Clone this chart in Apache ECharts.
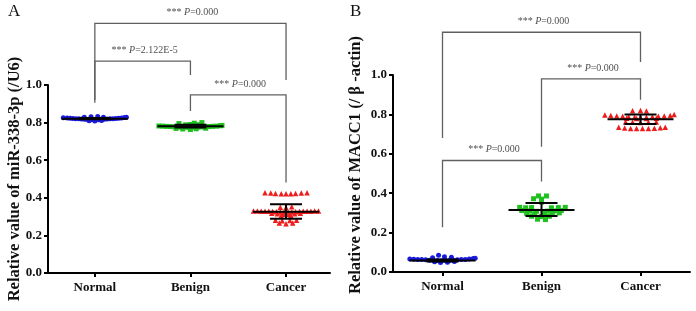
<!DOCTYPE html>
<html><head><meta charset="utf-8">
<script src="https://cdn.jsdelivr.net/npm/echarts@6/dist/echarts.min.js"></script>
<style>html,body{margin:0;padding:0;background:#fff}#c{width:696px;height:311px}</style>
</head><body><div id="c"></div>
<script>
const categories = ['Normal', 'Benign', 'Cancer'];
const yTickValues = [0, 0.2, 0.4, 0.6, 0.8, 1.0];
const titleA = 'Relative value of miR-338-3p (/U6)';
const titleB = 'Relative value of MACC1 (/ β -actin)';

// Panel A points: [horizontal jitter within the category, value]
const aNormal = [[-0.33,0.826],[-0.29,0.824],[-0.26,0.823],[-0.23,0.822],[-0.2,0.821],[-0.17,0.82],[-0.14,0.819],[-0.11,0.818],[-0.08,0.817],[-0.05,0.816],[-0.02,0.815],[0.01,0.814],[0.04,0.815],[0.07,0.816],[0.1,0.818],[0.13,0.819],[0.16,0.82],[0.19,0.821],[0.22,0.822],[0.25,0.823],[0.28,0.825],[0.31,0.827],[0.33,0.829],[-0.04,0.831],[0.03,0.833],[0.09,0.829],[-0.11,0.828],[0.0,0.808],[-0.06,0.81],[0.07,0.811]];
const aBenign = [[-0.33,0.782],[-0.29,0.781],[-0.25,0.78],[-0.21,0.779],[-0.17,0.778],[-0.13,0.777],[-0.09,0.776],[-0.05,0.775],[-0.01,0.774],[0.03,0.775],[0.07,0.776],[0.11,0.777],[0.15,0.778],[0.19,0.779],[0.23,0.78],[0.27,0.781],[0.31,0.783],[0.33,0.785],[-0.12,0.795],[0.04,0.797],[0.12,0.8],[0.0,0.79],[-0.05,0.788],[0.08,0.789],[-0.08,0.766],[0.0,0.763],[0.06,0.767],[-0.15,0.769],[0.16,0.77]];
const aCancer = [[-0.22,0.427],[-0.16,0.425],[-0.11,0.423],[-0.05,0.422],[0.0,0.422],[0.05,0.422],[0.1,0.423],[0.16,0.425],[0.22,0.427],[-0.06,0.35],[0.0,0.348],[0.06,0.352],[-0.34,0.33],[-0.3,0.33],[-0.26,0.329],[-0.22,0.329],[-0.18,0.328],[-0.14,0.327],[-0.1,0.326],[-0.06,0.325],[-0.02,0.324],[0.02,0.324],[0.06,0.325],[0.1,0.326],[0.14,0.327],[0.18,0.328],[0.22,0.329],[0.26,0.329],[0.3,0.33],[0.34,0.33],[-0.15,0.318],[-0.09,0.315],[-0.03,0.312],[0.03,0.312],[0.09,0.315],[0.15,0.318],[-0.05,0.305],[0.05,0.306],[-0.11,0.28],[-0.04,0.278],[0.04,0.279],[0.11,0.281],[-0.07,0.266],[0.0,0.262],[0.07,0.266]];
// Panel A summary: [category index, mean, mean - SD, mean + SD]
const aStats = [[0,0.821,0.818,0.824],[1,0.781,0.774,0.788],[2,0.326,0.288,0.366]];
// Panel A brackets: [from, to, left foot, right foot, top, p text]
const aBrackets = [[0,2,0.92,1.026,1.328,'0.000'],[0,1,0.905,1.053,1.127,'2.122E-5'],[1,2,0.862,0.481,0.947,'0.000']];

// Panel B points
const bNormal = [[-0.33,0.066],[-0.29,0.065],[-0.25,0.064],[-0.21,0.063],[-0.17,0.062],[-0.13,0.06],[-0.09,0.059],[-0.05,0.058],[-0.01,0.057],[0.03,0.058],[0.07,0.059],[0.11,0.06],[0.15,0.062],[0.19,0.063],[0.23,0.064],[0.27,0.066],[0.31,0.068],[0.33,0.07],[-0.04,0.085],[0.02,0.078],[0.09,0.075],[-0.1,0.072],[-0.02,0.048],[0.05,0.05],[-0.08,0.052],[0.12,0.053]];
const bBenign = [[-0.03,0.386],[0.05,0.386],[-0.08,0.372],[0.0,0.37],[0.0,0.355],[-0.22,0.328],[-0.16,0.326],[-0.1,0.327],[0.1,0.326],[0.17,0.327],[0.24,0.328],[-0.2,0.312],[-0.12,0.31],[-0.05,0.308],[0.06,0.309],[0.13,0.31],[0.2,0.312],[-0.15,0.298],[-0.07,0.296],[0.03,0.297],[0.11,0.298],[0.18,0.3],[-0.1,0.283],[0.0,0.281],[0.08,0.283],[-0.04,0.268],[0.04,0.266]];
const bCancer = [[-0.08,0.818],[0.0,0.82],[0.06,0.817],[-0.36,0.797],[-0.3,0.794],[-0.24,0.792],[-0.18,0.79],[-0.12,0.788],[-0.06,0.786],[0.0,0.785],[0.06,0.786],[0.12,0.788],[0.18,0.79],[0.24,0.792],[0.3,0.795],[0.34,0.799],[-0.14,0.781],[-0.04,0.779],[0.06,0.779],[0.16,0.781],[-0.15,0.762],[-0.08,0.76],[0.0,0.759],[0.08,0.76],[0.16,0.762],[-0.22,0.735],[-0.16,0.731],[-0.1,0.729],[-0.04,0.728],[0.02,0.728],[0.08,0.729],[0.14,0.73],[0.2,0.732],[0.25,0.735]];
const bStats = [[0,0.058,0.053,0.064],[1,0.315,0.284,0.35],[2,0.776,0.751,0.8]];
const bBrackets = [[0,2,0.68,1.066,1.217,'0.000'],[1,2,0.636,0.874,0.98,'0.000'],[0,1,0.227,0.46,0.566,'0.000']];

const SERIF = '"Liberation Serif", "Times New Roman", serif';
const colors = ['#1a1adf', '#1fc01f', '#ee1c1c'];
const symbols = ['circle', 'rect', 'triangle'];
const sizes = [5, 5, 5.5];

function errorBarRender(params, api) {
  const x = api.value(0);
  const pm = api.coord([x, api.value(1)]);
  const pl = api.coord([x, api.value(2)]);
  const ph = api.coord([x, api.value(3)]);
  const st = { stroke: '#000', lineWidth: 2 };
  return { type: 'group', children: [
    { type: 'line', shape: { x1: pm[0] - 33, y1: pm[1], x2: pm[0] + 33, y2: pm[1] }, style: st },
    { type: 'line', shape: { x1: pl[0], y1: pl[1], x2: ph[0], y2: ph[1] }, style: st },
    { type: 'line', shape: { x1: pl[0] - 16, y1: pl[1], x2: pl[0] + 16, y2: pl[1] }, style: st },
    { type: 'line', shape: { x1: ph[0] - 16, y1: ph[1], x2: ph[0] + 16, y2: ph[1] }, style: st }
  ]};
}
function bracketRender(list) {
  return function (params, api) {
    const b = list[params.dataIndex];
    const l0 = api.coord([b[0], b[2]]);
    const r0 = api.coord([b[1], b[3]]);
    const lt = api.coord([b[0], b[4]]);
    const rt = api.coord([b[1], b[4]]);
    return { type: 'group', children: [
      { type: 'polyline', shape: { points: [l0, lt, rt, r0] }, style: { stroke: '#606060', lineWidth: 1.3, fill: null } },
      { type: 'text', x: (lt[0] + rt[0]) / 2 + 2, y: lt[1] - 11,
        style: { text: '{s|*** }{p|P}{s|=' + b[5] + '}', align: 'center', verticalAlign: 'middle',
          rich: { s: { fontFamily: SERIF, fontSize: 10, fill: '#505050' },
                  p: { fontFamily: SERIF, fontSize: 10, fontStyle: 'italic', fill: '#505050' } } } }
    ]};
  };
}

function xAxis(gi, min, max) {
  return { gridIndex: gi, type: 'value', min: min, max: max,
    axisLine: { show: true, onZero: false, lineStyle: { color: '#000', width: 2 } },
    axisTick: { show: true, customValues: [0, 1, 2], length: 4, lineStyle: { color: '#000', width: 2 } },
    axisLabel: { customValues: [0, 1, 2], formatter: v => categories[Math.round(v)], margin: 8,
      fontFamily: SERIF, fontWeight: 'bold', fontSize: 13, color: '#111' },
    splitLine: { show: false } };
}
function yAxis(gi) {
  return { gridIndex: gi, type: 'value', min: 0, max: 1, interval: 0.2,
    axisLine: { show: true, onZero: false, lineStyle: { color: '#000', width: 2 } },
    axisTick: { show: true, length: 4, lineStyle: { color: '#000', width: 2 } },
    axisLabel: { formatter: v => v.toFixed(1), margin: 6, fontFamily: SERIF, fontWeight: 'bold', fontSize: 13, color: '#111' },
    splitLine: { show: false } };
}

const groupsA = [aNormal, aBenign, aCancer];
const groupsB = [bNormal, bBenign, bCancer];
const series = [];
[groupsA, groupsB].forEach((groups, gi) => {
  groups.forEach((pts, k) => {
    series.push({ type: 'scatter', xAxisIndex: gi, yAxisIndex: gi, data: pts.map(p => [k + p[0], p[1]]),
      symbol: symbols[k], symbolSize: sizes[k], itemStyle: { color: colors[k], opacity: 1 }, silent: true, z: 2 });
  });
});
series.push({ type: 'custom', xAxisIndex: 0, yAxisIndex: 0, data: aStats, renderItem: errorBarRender, z: 5, silent: true });
series.push({ type: 'custom', xAxisIndex: 1, yAxisIndex: 1, data: bStats, renderItem: errorBarRender, z: 5, silent: true });
series.push({ type: 'custom', xAxisIndex: 0, yAxisIndex: 0, clip: false, data: aBrackets.map(b => [b[0], b[4]]), renderItem: bracketRender(aBrackets), z: 3, silent: true });
series.push({ type: 'custom', xAxisIndex: 1, yAxisIndex: 1, clip: false, data: bBrackets.map(b => [b[0], b[4]]), renderItem: bracketRender(bBrackets), z: 3, silent: true });

const chart = echarts.init(document.getElementById('c'), null, { renderer: 'canvas' });
chart.setOption({
  animation: false,
  backgroundColor: '#fff',
  grid: [
    { left: 48, top: 85, width: 282, height: 188 },
    { left: 393, top: 75, width: 297, height: 197 }
  ],
  xAxis: [xAxis(0, -0.49, 2.46), xAxis(1, -0.5, 2.5)],
  yAxis: [yAxis(0), yAxis(1)],
  graphic: [
    { type: 'text', left: 8, top: 3, style: { text: 'A', fontFamily: SERIF, fontSize: 17, fill: '#111' } },
    { type: 'text', left: 350, top: 3, style: { text: 'B', fontFamily: SERIF, fontSize: 17, fill: '#111' } },
    { type: 'text', x: 15, y: 179, rotation: Math.PI / 2,
      style: { text: titleA, fontFamily: SERIF, fontWeight: 'bold', fontSize: 16.5, fill: '#111', align: 'center', verticalAlign: 'middle' } },
    { type: 'text', x: 356, y: 165, rotation: Math.PI / 2,
      style: { text: titleB, fontFamily: SERIF, fontWeight: 'bold', fontSize: 16.5, fill: '#111', align: 'center', verticalAlign: 'middle' } }
  ],
  series: series
});
</script>
</body></html>
